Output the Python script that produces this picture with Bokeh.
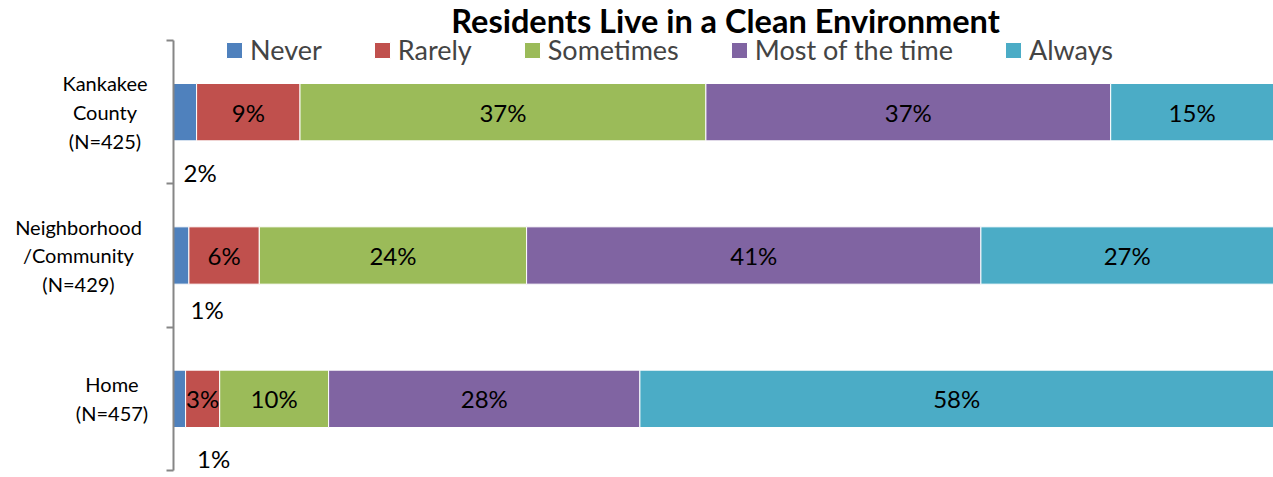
from bokeh.plotting import figure
from bokeh.layouts import row
from bokeh.models import Range1d, FixedTicker, Label, Legend, LegendItem, ColumnDataSource
from bokeh.embed import file_html
from bokeh.resources import INLINE
from bokeh.core.properties import value

title = "Residents Live in a Clean Environment"
groups = ["Kankakee\nCounty\n(N=425)", "Neighborhood\n/Community\n(N=429)", "Home\n(N=457)"]
series = ["Never", "Rarely", "Sometimes", "Most of the time", "Always"]
never = [2.1, 1.4, 1.1]
rarely = [9.4, 6.4, 3.1]
sometimes = [36.9, 24.3, 9.9]
most = [36.8, 41.3, 28.3]
always = [14.8, 26.6, 57.6]
colors = ["#4F81BD", "#C0504D", "#9BBB59", "#8064A2", "#4BACC6"]

FONT = "Lato"
values_by_series = [never, rarely, sometimes, most, always]
n = len(groups)
ypos = [n - 0.5 - i for i in range(n)]  # rows top to bottom

H = 477
LEFT_W = 153
px_per_row = 430 / n
y_range = Range1d(-7 / px_per_row, n + 40 / px_per_row)

# ---- left panel holding the category labels
lp = figure(width=LEFT_W, height=H, output_backend="svg", toolbar_location=None,
            x_range=Range1d(0, LEFT_W), y_range=y_range,
            min_border=0, min_border_left=0, min_border_right=0,
            min_border_top=0, min_border_bottom=0)
lp.outline_line_color = None
lp.axis.visible = False
lp.grid.visible = False
lp.text(x=[104.5, 78, 111.5], y=ypos, text=groups, text_align="center",
        text_baseline="middle", text_font=value(FONT), text_font_size="20px",
        text_line_height=1.2, text_color="#000000")

# ---- main chart
p = figure(width=1273 - LEFT_W, height=H, output_backend="svg", toolbar_location=None,
           x_range=Range1d(0, 100), y_range=y_range,
           min_border_left=20, min_border_right=0, min_border_top=0, min_border_bottom=0)
p.outline_line_color = None
p.xaxis.visible = False
p.xgrid.visible = False
p.ygrid.visible = False

yax = p.yaxis[0]
yax.bounds = (0, n)
yax.ticker = FixedTicker(ticks=ypos, minor_ticks=list(range(n + 1)))
yax.major_label_overrides = {y: "" for y in ypos}
yax.major_label_text_font_size = "1px"
yax.major_label_standoff = 0
yax.major_tick_line_color = None
yax.major_tick_out = 0
yax.minor_tick_in = 0
yax.minor_tick_out = 7
yax.minor_tick_line_color = "#868686"
yax.minor_tick_line_width = 2
yax.axis_line_color = "#868686"
yax.axis_line_width = 2

items = []
left = [0.0] * n
seg_x, seg_y, seg_t = [], [], []
for si, (name, vals, col) in enumerate(zip(series, values_by_series, colors)):
    right = [l + v for l, v in zip(left, vals)]
    src = ColumnDataSource(dict(y=ypos, left=left, right=right))
    r = p.hbar(y="y", left="left", right="right", height=0.4, source=src,
               fill_color=col, line_color="white", line_width=1)
    items.append(LegendItem(label=name, renderers=[r]))
    if si > 0:
        for i in range(n):
            seg_x.append((left[i] + right[i]) / 2)
            seg_y.append(ypos[i])
            seg_t.append(f"{round(vals[i])}%")
    left = right

p.text(x=seg_x, y=seg_y, text=seg_t, text_align="center", text_baseline="middle",
       text_font=value(FONT), text_font_size="24px", text_color="#000000")

# "Never" labels sit below their bars
nsrc = ColumnDataSource(dict(x=[v / 2 for v in never], y=ypos,
                             t=[f"{round(v)}%" for v in never],
                             xo=[15, 26, 34], yo=[60, 54, 60]))
p.text(x="x", y="y", text="t", x_offset="xo", y_offset="yo", source=nsrc,
       text_align="center", text_baseline="middle",
       text_font=value(FONT), text_font_size="24px", text_color="#000000")

# title
p.add_layout(Label(x=50, y=n + 20 / px_per_row, x_offset=2, y_offset=0, text=title,
                   text_align="center", text_baseline="middle", text_font=FONT,
                   text_font_style="bold", text_font_size="32.5px", text_color="#000000"))

legend = Legend(items=items, orientation="horizontal", location=(51, 411),
                glyph_width=20, glyph_height=20, label_standoff=6, spacing=50,
                label_text_font=FONT, label_text_font_size="27px",
                border_line_color=None, background_fill_alpha=0,
                padding=0, margin=0)
p.add_layout(legend)

layout = row(lp, p, spacing=0)
open("out.html", "w").write(file_html(layout, INLINE))
